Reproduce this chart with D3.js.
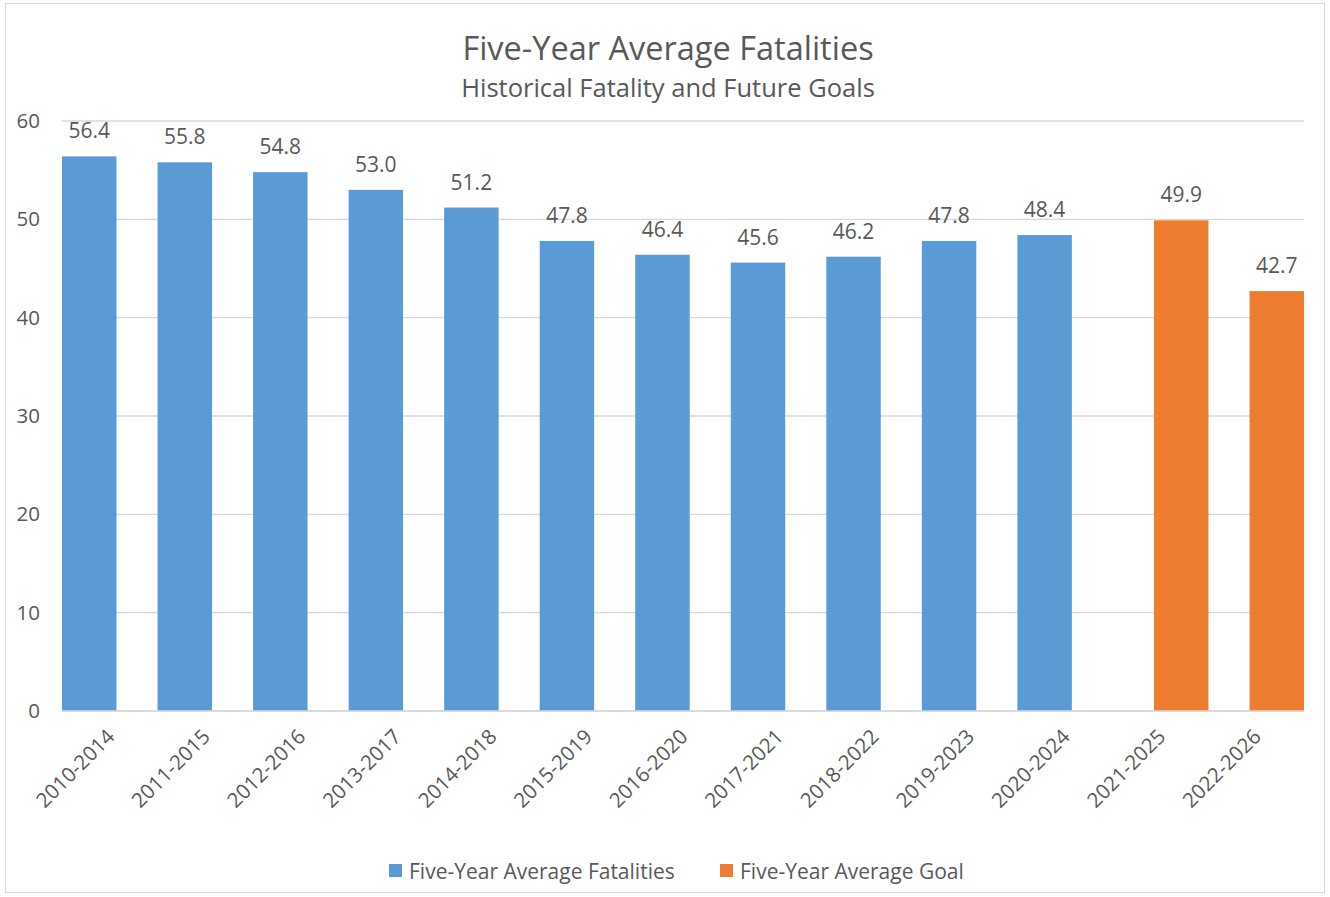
<!DOCTYPE html>
<html>
<head>
<meta charset="utf-8">
<script src="https://cdn.jsdelivr.net/npm/d3@7"></script>
<style>
  body { margin: 0; background: #fff; }
  text { font-family: "Open Sans", "Noto Sans", sans-serif; fill: #595959; }
</style>
</head>
<body>
<svg id="chart" width="1330" height="897"></svg>
<script>
// data
const periods = ["2010-2014", "2011-2015", "2012-2016", "2013-2017", "2014-2018", "2015-2019",
  "2016-2020", "2017-2021", "2018-2022", "2019-2023", "2020-2024", "2021-2025", "2022-2026"];
const fatalities = [56.4, 55.8, 54.8, 53.0, 51.2, 47.8, 46.4, 45.6, 46.2, 47.8, 48.4, null, null];
const goals = [null, null, null, null, null, null, null, null, null, null, null, 49.9, 42.7];
const yTicks = [0, 10, 20, 30, 40, 50, 60];
const seriesNames = ["Five-Year Average Fatalities", "Five-Year Average Goal"];

const colorBlue = "#5B9BD5";
const colorOrange = "#ED7D31";
const colorGrid = "#D9D9D9";

const svg = d3.select("#chart");
const W = 1330, H = 897;
const margin = { left: 62, right: 26, top: 121, bottom: 186 };

// outer border
svg.append("rect")
  .attr("x", 5.5).attr("y", 3.5)
  .attr("width", W - 11).attr("height", H - 8)
  .attr("fill", "#fff").attr("stroke", colorGrid);

const x = d3.scaleBand()
  .domain(periods)
  .range([margin.left, W - margin.right])
  .padding(0);

const y = d3.scaleLinear()
  .domain([0, 60])
  .range([H - margin.bottom, margin.top]);

const barW = x.bandwidth() * 0.57;

// gridlines
svg.append("g")
  .selectAll("line")
  .data(yTicks)
  .join("line")
  .attr("x1", margin.left).attr("x2", W - margin.right)
  .attr("y1", d => y(d)).attr("y2", d => y(d))
  .attr("stroke", colorGrid).attr("stroke-width", 1.3);

// y tick labels
svg.append("g")
  .selectAll("text")
  .data(yTicks)
  .join("text")
  .attr("x", 40)
  .attr("y", d => y(d) + 7)
  .attr("text-anchor", "end")
  .attr("font-size", 20.5)
  .text(d => d);

// bars: fatalities at left of band, goals at right of band
function drawSeries(values, color, offset) {
  const data = periods.map((p, i) => ({ p, v: values[i] })).filter(d => d.v != null);
  const g = svg.append("g");
  g.selectAll("rect")
    .data(data)
    .join("rect")
    .attr("x", d => x(d.p) + offset)
    .attr("y", d => y(d.v))
    .attr("width", barW)
    .attr("height", d => y(0) - y(d.v))
    .attr("fill", color);
  g.selectAll("text")
    .data(data)
    .join("text")
    .attr("x", d => x(d.p) + offset + barW / 2)
    .attr("y", d => y(d.v) - 18)
    .attr("text-anchor", "middle")
    .attr("font-size", 21)
    .text(d => d.v.toFixed(1));
}
drawSeries(fatalities, colorBlue, 0);
drawSeries(goals, colorOrange, x.bandwidth() - barW);

// x axis baseline
svg.append("line")
  .attr("x1", margin.left).attr("x2", W - margin.right)
  .attr("y1", y(0)).attr("y2", y(0))
  .attr("stroke", colorGrid).attr("stroke-width", 1.3);

// x labels
svg.append("g")
  .selectAll("text")
  .data(periods)
  .join("text")
  .attr("transform", d => `translate(${x(d) + x.bandwidth() / 2 + 6},${y(0) + 27}) rotate(-45)`)
  .attr("text-anchor", "end")
  .attr("font-size", 20.5)
  .text(d => d);

// titles
svg.append("text")
  .attr("x", 668).attr("y", 60)
  .attr("text-anchor", "middle")
  .attr("font-size", 32.5)
  .text("Five-Year Average Fatalities");
svg.append("text")
  .attr("x", 668).attr("y", 97)
  .attr("text-anchor", "middle")
  .attr("font-size", 25.5)
  .text("Historical Fatality and Future Goals");

// legend
const legend = [
  { name: seriesNames[0], color: colorBlue, x: 389 },
  { name: seriesNames[1], color: colorOrange, x: 720 }
];
const lg = svg.append("g").selectAll("g").data(legend).join("g")
  .attr("transform", d => `translate(${d.x},864)`);
lg.append("rect").attr("width", 13).attr("height", 13).attr("fill", d => d.color);
lg.append("text").attr("x", 20).attr("y", 15).attr("font-size", 21).text(d => d.name);
</script>
</body>
</html>
